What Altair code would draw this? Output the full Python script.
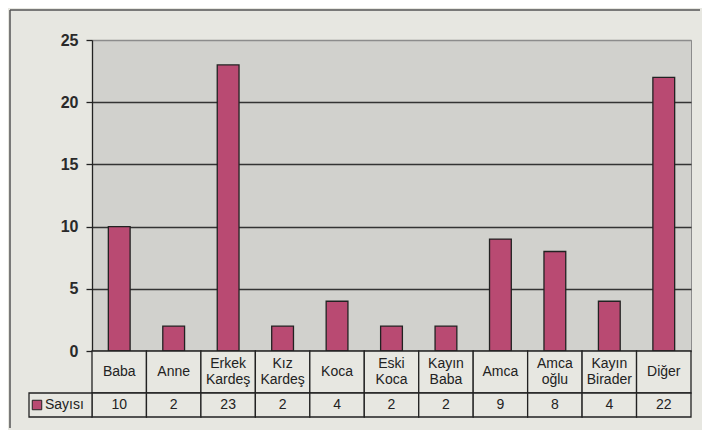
import altair as alt
import pandas as pd

# ---- data ----
categories = ["Baba", "Anne", "Erkek Kardeş", "Kız Kardeş", "Koca", "Eski Koca",
              "Kayın Baba", "Amca", "Amca oğlu", "Kayın Birader", "Diğer"]
label_lines = ["Baba", "Anne", "Erkek\nKardeş", "Kız\nKardeş", "Koca", "Eski\nKoca",
               "Kayın\nBaba", "Amca", "Amca\noğlu", "Kayın\nBirader", "Diğer"]
counts = [10, 2, 23, 2, 4, 2, 2, 9, 8, 4, 22]
series_name = "Sayısı"
y_ticks = [0, 5, 10, 15, 20, 25]

df = pd.DataFrame({"cat": categories, "label": label_lines, "count": counts})
one = pd.DataFrame({"s": [series_name]})

# ---- style ----
FONT = "Liberation Sans"
BAR = "#B94A72"
PAGE_BG = "#E7E7E1"
PLOT_BG = "#D1D1CD"
INK = "#222222"
W, H1, H2, H3 = 599, 311, 42, 24

xs = alt.Scale(domain=categories, paddingInner=0, paddingOuter=0)
xenc = alt.X("cat:N", scale=xs, axis=None, sort=categories)

# ---- bar panel ----
bars = alt.Chart(df).mark_bar(
    color=BAR, stroke=INK, strokeWidth=1.3, width=alt.RelativeBandSize(0.4)
).encode(
    x=xenc,
    y=alt.Y("count:Q",
            scale=alt.Scale(domain=[0, 25], nice=False),
            axis=alt.Axis(values=y_ticks, title=None, grid=True,
                          gridColor=alt.condition("datum.value == 25", alt.value("#8c8c8c"), alt.value("#333333")),
                          gridWidth=1.3, domainColor=INK, domainWidth=1.3,
                          tickColor=INK, tickSize=6, tickWidth=1.3,
                          labelFont=FONT, labelFontSize=16, labelFontWeight="bold",
                          labelColor="#2a2a2a", labelPadding=8)),
)

frame_left = alt.Chart(one).mark_rule(color="#555555", strokeWidth=1.5).encode(
    x=alt.value(-82), y=alt.value(-30), y2=alt.value(388))
frame_top = alt.Chart(one).mark_rule(color="#555555", strokeWidth=1.5).encode(
    x=alt.value(-82), x2=alt.value(608), y=alt.value(-30))

top = alt.layer(frame_left, frame_top, bars).properties(
    width=W, height=H1, view=alt.ViewBackground(fill=PLOT_BG, stroke="#8c8c8c"))

# ---- table: category row ----
cells2 = alt.Chart(df).mark_rect(fill=PAGE_BG, stroke=INK, strokeWidth=1.3).encode(x=xenc)
text2a = alt.Chart(df).transform_filter("indexof(datum.label, '\\n') < 0").mark_text(
    font=FONT, fontSize=14, color=INK).encode(x=xenc, text="label:N")
text2b = alt.Chart(df).transform_filter("indexof(datum.label, '\\n') >= 0").mark_text(
    font=FONT, fontSize=14, color=INK, lineBreak="\n", lineHeight=16, dy=-8).encode(
    x=xenc, text="label:N")
row_cat = alt.layer(cells2, text2a, text2b).properties(
    width=W, height=H2, view=alt.ViewBackground(fill=PAGE_BG, stroke=None))

# ---- table: value row ----
cells3 = alt.Chart(df).mark_rect(fill=PAGE_BG, stroke=INK, strokeWidth=1.3).encode(x=xenc)
text3 = alt.Chart(df).mark_text(font=FONT, fontSize=14, color=INK).encode(
    x=xenc, text="count:Q")
leg_cell = alt.Chart(one).mark_rect(fill=PAGE_BG, stroke=INK, strokeWidth=1.3).encode(
    x=alt.value(-63), x2=alt.value(0))
leg_sw = alt.Chart(one).mark_point(shape="square", filled=True, size=90, fill=BAR,
                                   stroke=INK, strokeWidth=1, opacity=1).encode(
    x=alt.value(-55))
leg_tx = alt.Chart(one).mark_text(font=FONT, fontSize=14, color=INK, align="left").encode(
    x=alt.value(-47), text="s:N")
row_val = alt.layer(cells3, text3, leg_cell, leg_sw, leg_tx).properties(
    width=W, height=H3, view=alt.ViewBackground(fill=PAGE_BG, stroke=None))

chart = alt.vconcat(top, row_cat, row_val, spacing=0, bounds="flush").configure(
    background=PAGE_BG, padding=0)

chart.save("out.html", embed_options={"renderer": "svg", "actions": False})
